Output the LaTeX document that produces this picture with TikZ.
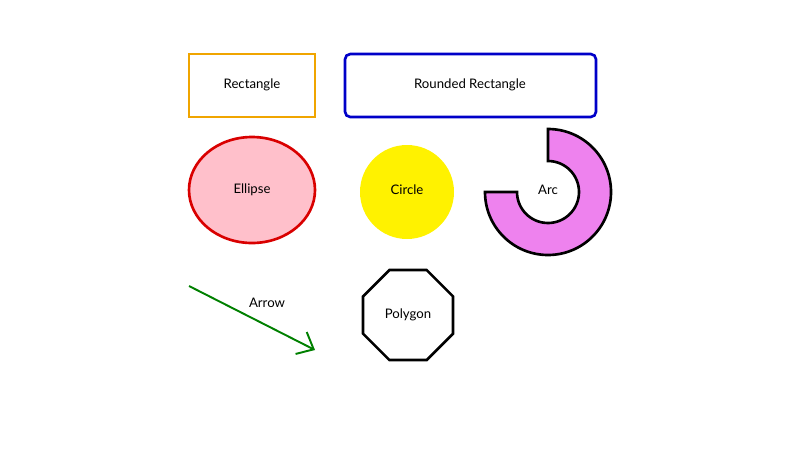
\documentclass[tikz,border=0pt]{standalone}
\usepackage{fontspec}
\setmainfont{Lato}
\usepackage{tikz}
\usetikzlibrary{shapes.geometric,arrows.meta}

\begin{document}
\begin{tikzpicture}[x=0.02cm,y=-0.02cm,
    font=\fontsize{7.5}{9}\selectfont,
    shapeline/.style={line width=1.5pt},
    lbl/.style={inner sep=0pt}]
    \useasboundingbox (0,0) rectangle (800,450);

    % Rectangles
    \draw [shapeline,draw={rgb,255:red,240;green,165;blue,0}] (189,54) rectangle (315,117);
    \node (rect) [lbl] at (252,85) {Rectangle};
    \draw [shapeline,draw={rgb,255:red,0;green,0;blue,200},rounded corners=3pt] (345,54) rectangle (596,117);
    \node (rrect) [lbl] at (470,85) {Rounded Rectangle};

    % Ellipse and circle
    \draw [shapeline,draw=red!85!black,fill={rgb,255:red,255;green,192;blue,203}] (252,190) ellipse [x radius=63, y radius=53];
    \node (ellipse) [lbl] at (252,190) {Ellipse};
    \fill [yellow] (407,192) circle [radius=47];
    \node (circle) [lbl] at (407,190) {Circle};

    % Arc
    \draw [shapeline,fill={rgb,255:red,238;green,130;blue,238}]
        (548,129) arc [start angle=-90, end angle=180, x radius=63, y radius=63]
        -- (517,192) arc [start angle=180, end angle=-90, x radius=31, y radius=31] -- cycle;
    \node (arc) [lbl] at (548,190) {Arc};

    % Arrow
    \coordinate (a0) at (189,286);
    \coordinate (a1) at (315,350);
    \draw [line width=1.1pt,draw={rgb,255:red,0;green,128;blue,0},-{Straight Barb[length=8pt,width=14pt]}] (a0) -- (a1);
    \node (arrow) [lbl] at (267,303) {Arrow};

    % Polygon
    \node (poly) [regular polygon,regular polygon sides=8,draw,shapeline,minimum size=97.4*0.02cm,inner sep=0pt] at (408,315) {Polygon};
\end{tikzpicture}
\end{document}
